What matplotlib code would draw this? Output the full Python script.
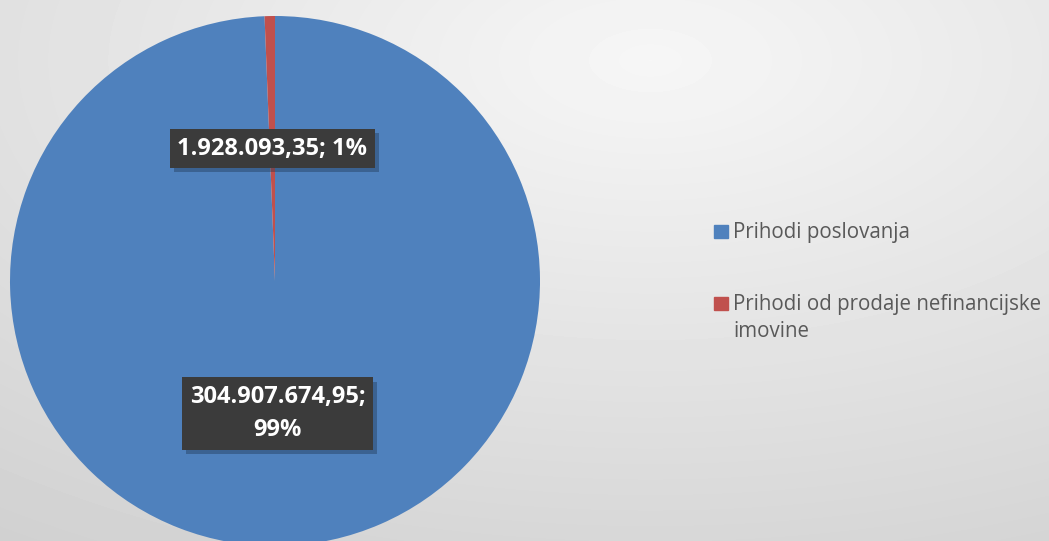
import numpy as np
import matplotlib.pyplot as plt
import matplotlib.patches as mpatches
import matplotlib.patheffects as pe

# data
categories = ['Prihodi poslovanja', 'Prihodi od prodaje nefinancijske\nimovine']
values = [304907674.95, 1928093.35]
colors = ['#4F81BD', '#C0504D']


def fmt_hr(v):
    # 1234567.89 -> 1.234.567,89
    s = f'{v:,.2f}'
    return s.replace(',', 'X').replace('.', ',').replace('X', '.')


plt.rcParams['font.family'] = ['Open Sans', 'DejaVu Sans']

W, H = 1049, 541
fig = plt.figure(figsize=(W / 100, H / 100), dpi=100)


def fx(px):
    return px / W


def fy(py):
    # pixel row from the top -> figure fraction
    return 1 - py / H


# background gradient
bg = fig.add_axes([0, 0, 1, 1], zorder=-10)
yy, xx = np.mgrid[0:H, 0:W]
d = np.sqrt(((xx - 650) / W) ** 2 + ((yy - 60) / H) ** 2)
shade = 0.965 - 0.15 * np.clip(d / 1.1, 0, 1)
bg.imshow(shade, cmap='gray', vmin=0, vmax=1, aspect='auto', extent=[0, 1, 0, 1])
bg.set_axis_off()

# pie axes
cx, cy, r = 275, 281, 265
ax = fig.add_axes([fx(cx - r), fy(cy + r), 2 * r / W, 2 * r / H])
wedges, _ = ax.pie(values, colors=colors, startangle=90, counterclock=False,
                   radius=1, wedgeprops=dict(linewidth=0))
ax.set_xlim(-1, 1)
ax.set_ylim(-1, 1)
ax.set_aspect('equal')
ax.set_axis_off()

total = sum(values)
labels = [f'{fmt_hr(values[0])};\n{values[0] / total * 100:.0f}%',
          f'{fmt_hr(values[1])}; {values[1] / total * 100:.0f}%']
for w, lab in zip(wedges, labels):
    ang = np.deg2rad((w.theta1 + w.theta2) / 2)
    x, y = 0.5 * np.cos(ang), 0.5 * np.sin(ang)
    t = ax.text(x, y, lab, ha='center', va='center', color='white',
                fontsize=17, fontweight='bold', linespacing=1.5,
                bbox=dict(boxstyle='square,pad=0.32', fc='#3b3b3b', ec='none'))
    t.get_bbox_patch().set_path_effects([
        pe.SimplePatchShadow(offset=(3, -3), shadow_rgbFace='#1f3550', alpha=0.4),
        pe.Normal()])

# legend, drawn by hand so the marker sits on the first text line
leg_y = [231, 303]
for cat, col, ly in zip(categories, colors, leg_y):
    fig.patches.append(mpatches.Rectangle((fx(714), fy(ly + 6.5)), 14 / W, 13 / H,
                                          transform=fig.transFigure, color=col))
    fig.text(fx(733), fy(ly - 9), cat, ha='left', va='top', fontsize=14.8,
             color='#595959', linespacing=1.4)

fig.savefig('out.png', dpi=100)
